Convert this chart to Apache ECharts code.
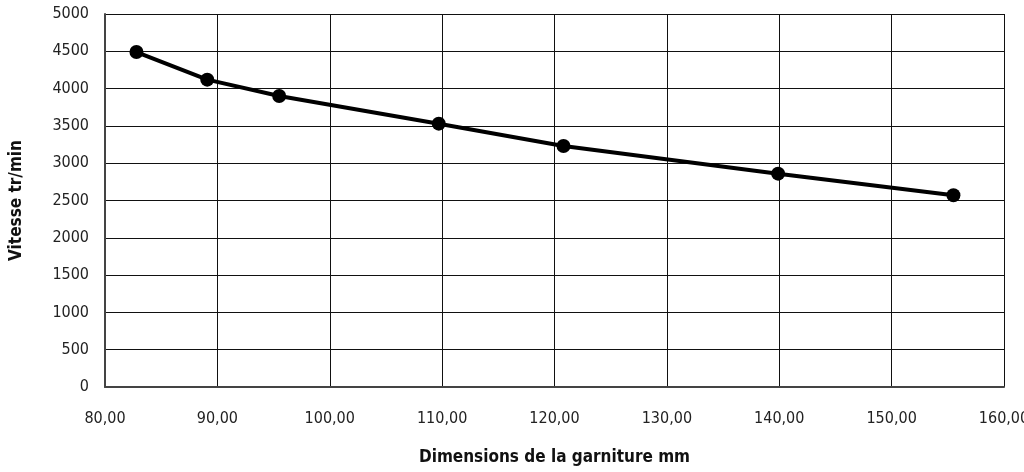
<!DOCTYPE html>
<html>
<head>
<meta charset="utf-8">
<script src="https://cdn.jsdelivr.net/npm/echarts@6/dist/echarts.min.js"></script>
<style>
  html, body { margin: 0; padding: 0; background: #fff; }
  #chart { width: 1024px; height: 472px; }
</style>
</head>
<body>
<div id="chart"></div>
<script>
// garniture dimension (mm) vs speed (tr/min)
var dimensions = [82.8, 89.1, 95.5, 109.7, 120.8, 139.9, 155.5]
var vitesse = [4490, 4120, 3900, 3530, 3230, 2860, 2570]

var font = '"Liberation Sans Narrow", "DejaVu Sans Condensed", sans-serif'

var chart = echarts.init(document.getElementById('chart'))

chart.setOption({
  animation: false,
  grid: {
    left: 105,
    right: 20,
    top: 14,
    bottom: 85,
    outerBoundsMode: 'none'
  },
  xAxis: {
    type: 'value',
    min: 80,
    max: 160,
    interval: 10,
    name: 'Dimensions de la garniture mm',
    nameLocation: 'middle',
    nameGap: 62,
    nameTextStyle: { fontFamily: font, fontSize: 17, fontWeight: 'bold', color: '#111' },
    axisLine: { show: true, lineStyle: { color: '#444', width: 2 } },
    axisTick: { show: false },
    axisLabel: {
      margin: 24,
      fontFamily: font,
      fontSize: 16,
      color: '#222',
      formatter: function(v) { return v.toFixed(2).replace('.', ',') }
    },
    splitLine: { show: true, lineStyle: { color: '#111', width: 1 } }
  },
  yAxis: {
    type: 'value',
    min: 0,
    max: 5000,
    interval: 500,
    name: 'Vitesse tr/min',
    nameLocation: 'middle',
    nameGap: 80,
    nameTextStyle: { fontFamily: font, fontSize: 17, fontWeight: 'bold', color: '#111' },
    axisLine: { show: true, lineStyle: { color: '#444', width: 2 } },
    axisTick: { show: false },
    axisLabel: {
      margin: 16,
      fontFamily: font,
      fontSize: 16,
      color: '#222',
      formatter: function(v) { return String(v) }
    },
    splitLine: { show: true, lineStyle: { color: '#111', width: 1 } }
  },
  series: [
    {
      type: 'line',
      data: dimensions.map(function(d, i) { return [d, vitesse[i]] }),
      symbol: 'circle',
      symbolSize: 14,
      itemStyle: { color: '#000' },
      lineStyle: { color: '#000', width: 4 }
    }
  ]
})
</script>
</body>
</html>
